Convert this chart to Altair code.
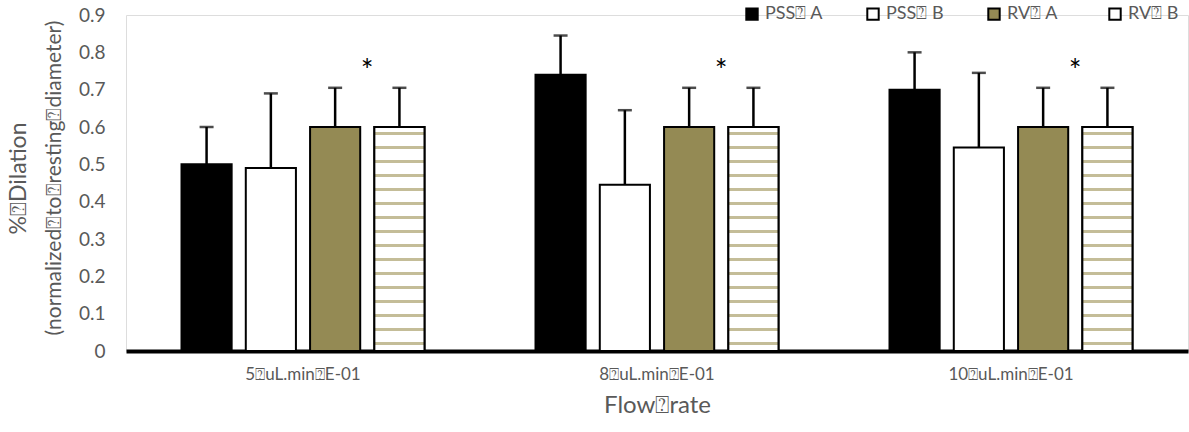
import altair as alt
import pandas as pd

# Flow rates (x categories) and the four groups
flow_rates = ["5⍰uL.min⍰E-01", "8⍰uL.min⍰E-01", "10⍰uL.min⍰E-01"]
groups = ["PSS⍰ A", "PSS⍰ B", "RV⍰ A", "RV⍰ B"]

# Mean % dilation for each group at each flow rate
pss_a_mean = [0.50, 0.74, 0.70]
pss_b_mean = [0.49, 0.445, 0.545]
rv_a_mean = [0.60, 0.60, 0.60]
rv_b_mean = [0.60, 0.60, 0.60]

# Upper error bar lengths
pss_a_err = [0.10, 0.105, 0.10]
pss_b_err = [0.20, 0.20, 0.20]
rv_a_err = [0.105, 0.105, 0.105]
rv_b_err = [0.105, 0.105, 0.105]

# Significance markers drawn between the two RV bars
sig_flow_rates = ["5⍰uL.min⍰E-01", "8⍰uL.min⍰E-01", "10⍰uL.min⍰E-01"]
sig_height = [0.77, 0.77, 0.77]

means = [pss_a_mean, pss_b_mean, rv_a_mean, rv_b_mean]
errs = [pss_a_err, pss_b_err, rv_a_err, rv_b_err]
rows = []
for g, m_list, e_list in zip(groups, means, errs):
    for f, m, e in zip(flow_rates, m_list, e_list):
        rows.append({"flow": f, "group": g, "mean": m, "err": e})
df = pd.DataFrame(rows)
sig_df = pd.DataFrame({"flow": sig_flow_rates, "y": sig_height})

FONT = "Lato"
GREY = "#595959"
OLIVE = "#948A54"
HATCH = "#C4BD98"

# Wavy-hatch look for the RV B bars: thin olive bands on white
stops = []
n_bands = 16
for i in range(n_bands):
    a = i / n_bands
    b = (i + 0.35) / n_bands
    c = (i + 0.6) / n_bands
    stops += [
        alt.GradientStop(color="white", offset=a),
        alt.GradientStop(color="white", offset=b),
        alt.GradientStop(color=HATCH, offset=b),
        alt.GradientStop(color=HATCH, offset=c),
        alt.GradientStop(color="white", offset=c),
    ]
stops.append(alt.GradientStop(color="white", offset=1))
hatch = alt.Gradient(gradient="linear", stops=stops, x1=0, x2=0, y1=0, y2=1)

x_axis = alt.Axis(
    title="Flow⍰rate",
    titleFont=FONT,
    titleFontSize=24,
    titleFontWeight="normal",
    titleColor=GREY,
    titlePadding=11,
    labelAngle=0,
    labelFont=FONT,
    labelFontSize=17,
    labelColor=GREY,
    labelPadding=15,
    ticks=False,
    domainColor="black",
    domainWidth=4,
    grid=False,
)
y_axis = alt.Axis(
    title="%⍰Dilation",
    titleFont=FONT,
    titleFontSize=23,
    titleFontWeight="normal",
    titleColor=GREY,
    titleX=-96,
    titleY=163,
    titleAlign="center",
    values=[0, 0.1, 0.2, 0.3, 0.4, 0.5, 0.6, 0.7, 0.8, 0.9],
    labelExpr="datum.value == 0 ? '0' : format(datum.value, '.1f')",
    labelOverlap=False,
    labelFont=FONT,
    labelFontSize=19,
    labelColor=GREY,
    labelPadding=21,
    domain=False,
    ticks=False,
    grid=False,
)
x_scale = alt.Scale(domain=flow_rates, paddingInner=0.3136, paddingOuter=0.1568)
y_scale = alt.Scale(domain=[0, 0.9], nice=False)

x_enc = alt.X("flow:N", sort=flow_rates, scale=x_scale, axis=x_axis)
xoff_enc = alt.XOffset(
    "group:N", sort=groups, scale=alt.Scale(domain=groups, paddingInner=0.22, paddingOuter=0)
)


def y_of(field):
    return alt.Y(field, scale=y_scale, axis=y_axis)


base = alt.Chart(df)

bars = base.mark_bar(stroke="black", strokeWidth=2).encode(
    x=x_enc,
    xOffset=xoff_enc,
    y=y_of("mean:Q"),
    fill=alt.Fill(
        "group:N",
        sort=groups,
        scale=alt.Scale(domain=groups, range=["black", "white", OLIVE, "white"]),
        legend=alt.Legend(
            title=None,
            orient="none",
            legendX=617,
            legendY=-10,
            direction="horizontal",
            gridAlign="all",
            symbolType="square",
            symbolSize=130,
            symbolStrokeColor="black",
            symbolStrokeWidth=2,
            symbolOpacity=1,
            labelFont=FONT,
            labelFontSize=18,
            labelColor=GREY,
            labelOffset=4,
            columnPadding=39,
            symbolOffset=0,
        ),
    ),
)

hatched = (
    base.transform_filter(alt.datum.group == "RV⍰ B")
    .mark_bar(fill=hatch, stroke="black", strokeWidth=2)
    .encode(x=x_enc, xOffset=xoff_enc, y=y_of("mean:Q"))
)

err_rule = (
    base.transform_calculate(top="datum.mean + datum.err")
    .mark_rule(color="black", strokeWidth=2.5)
    .encode(x=x_enc, xOffset=xoff_enc, y=y_of("mean:Q"), y2="top:Q")
)

err_cap = (
    base.transform_calculate(top="datum.mean + datum.err")
    .mark_tick(color="black", thickness=2.5, size=14)
    .encode(x=x_enc, xOffset=xoff_enc, y=y_of("top:Q"))
)

stars = (
    alt.Chart(sig_df)
    .mark_text(text="*", font=FONT, fontSize=30, color="black", dx=64, dy=8)
    .encode(x=x_enc, y=y_of("y:Q"))
)

subtitle = (
    alt.Chart(sig_df.head(1))
    .mark_text(
        text="(normalized⍰to⍰resting⍰diameter)",
        font=FONT,
        fontSize=21,
        color=GREY,
        angle=270,
        baseline="middle",
        align="center",
    )
    .encode(x=alt.value(-71), y=alt.value(163))
)

chart = (
    alt.layer(bars, hatched, err_rule, err_cap, stars, subtitle)
    .properties(
        width=1062,
        height=336,
        autosize=alt.AutoSizeParams(type="none"),
        padding={"left": 126, "top": 15, "right": 1, "bottom": 81},
    )
    .configure_view(stroke="transparent", strokeWidth=0)
    .configure(background="white")
)

chart.save("out.html", embed_options={"renderer": "svg", "actions": False})
